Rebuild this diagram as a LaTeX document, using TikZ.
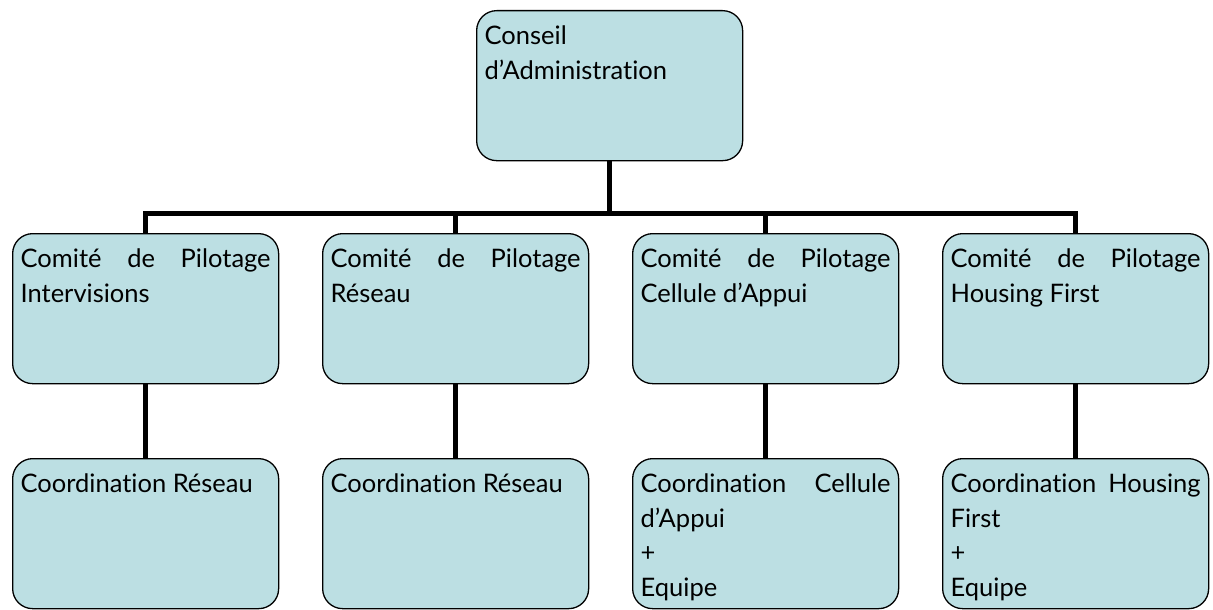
\documentclass[tikz,border=0pt]{standalone}
\usepackage{fontspec}
\setmainfont{Lato}[Ligatures={TeX,NoCommon}]
\definecolor{boxfill}{RGB}{188,223,227}
\hyphenpenalty=10000
\exhyphenpenalty=10000
\newcommand{\boxtext}[1]{\parbox[t][134pt][t]{250pt}{\rule{0pt}{26pt}#1}}
\begin{document}
\begin{tikzpicture}[x=1pt,y=-1pt,line width=1.3pt,
  orgbox/.style={draw,fill=boxfill,rounded corners=20pt,anchor=north west,inner xsep=8pt,inner ysep=8pt,font=\fontsize{25.5}{34.5}\selectfont},
  link/.style={line width=5pt}]
\useasboundingbox (0,0) rectangle (1213,610);
\node[orgbox] (ca) at (476,10) {\boxtext{Conseil d’Administration}};
\node[orgbox] (cp1) at (12,233) {\boxtext{Comité de Pilotage Intervisions}};
\node[orgbox] (cp2) at (322,233) {\boxtext{Comité de Pilotage Réseau}};
\node[orgbox] (cp3) at (632,233) {\boxtext{Comité de Pilotage Cellule d’Appui}};
\node[orgbox] (cp4) at (942,233) {\boxtext{Comité de Pilotage Housing First}};
\node[orgbox] (co1) at (12,458) {\boxtext{Coordination Réseau}};
\node[orgbox] (co2) at (322,458) {\boxtext{Coordination Réseau}};
\node[orgbox] (co3) at (632,458) {\boxtext{Coordination Cellule d’Appui\\+\\Equipe}};
\node[orgbox] (co4) at (942,458) {\boxtext{Coordination Housing First\\+\\Equipe}};
\coordinate (bus) at ([yshift=-52pt]ca.south);
\draw[link] (ca.south) -- (bus);
\foreach \n in {1,...,4}
  \draw[link] (bus) -| (cp\n.north);
\foreach \n in {1,...,4}
  \draw[link] (cp\n.south) -- (co\n.north);
\end{tikzpicture}
\end{document}
